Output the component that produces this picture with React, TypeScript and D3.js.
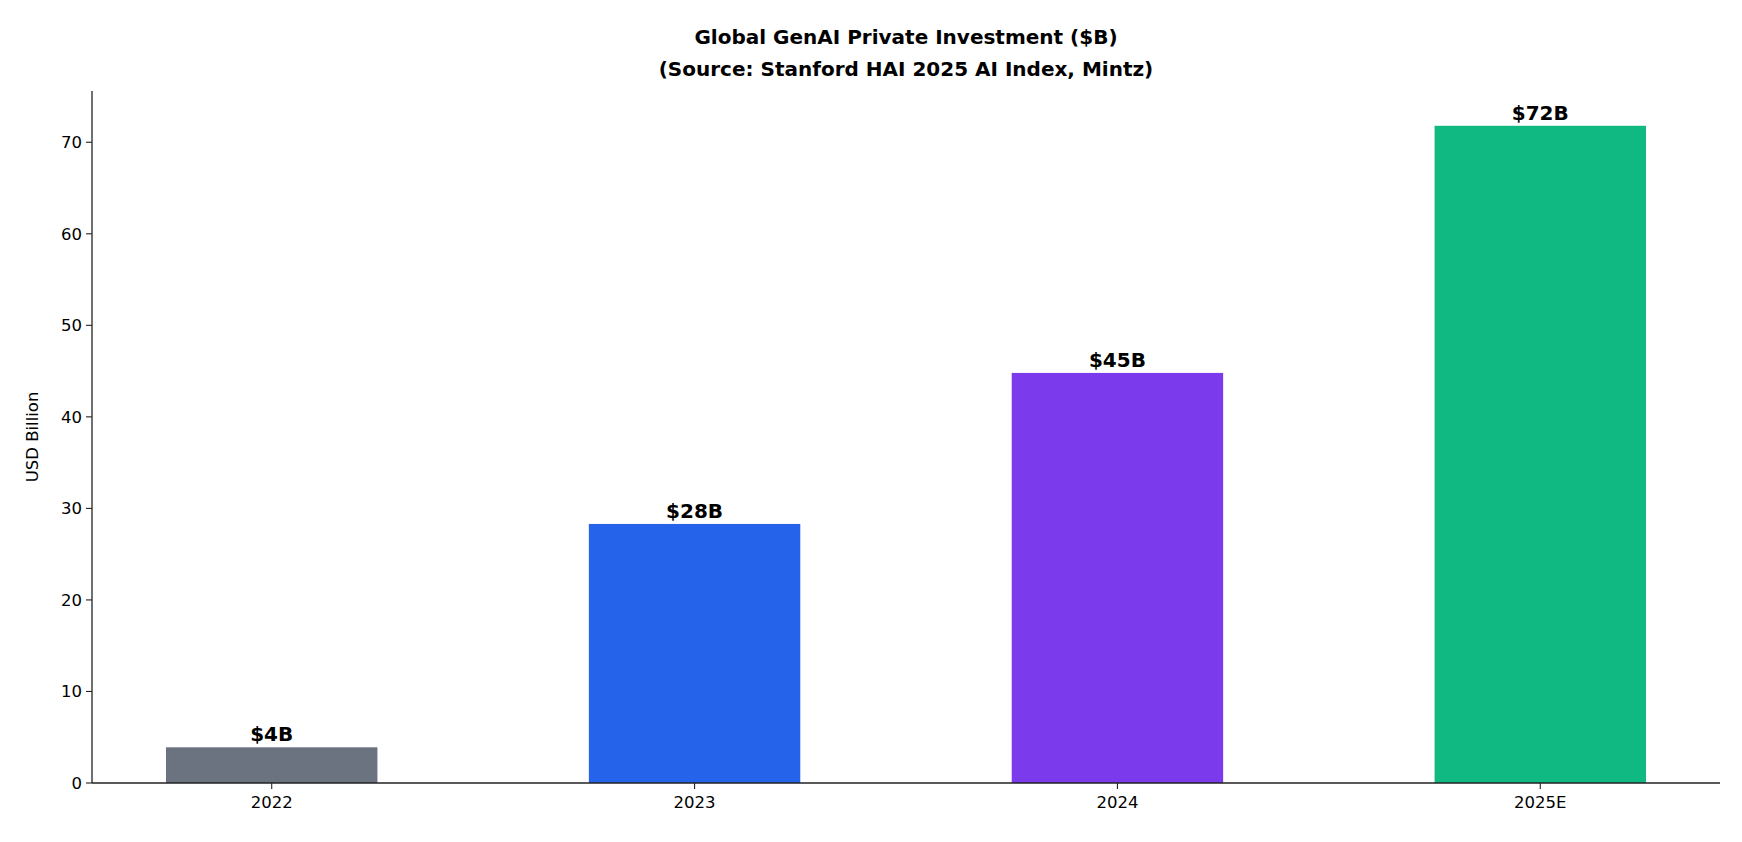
import * as d3 from "d3";

const categories = ["2022", "2023", "2024", "2025E"];
const values = [3.9, 28.3, 44.8, 71.8];
const labels = ["$4B", "$28B", "$45B", "$72B"];
const colors = ["#6b7280", "#2563eb", "#7c3aed", "#10b981"];
const yTicks = [0, 10, 20, 30, 40, 50, 60, 70];

const W = 1742;
const H = 842;
const m = { left: 92, right: 22, top: 91, bottom: 59 };
const font = "'DejaVu Sans', sans-serif";

export default function App() {
  const x = d3.scaleLinear().domain([-0.425, 3.425]).range([m.left, W - m.right]);
  const y = d3.scaleLinear().domain([0, 75.6]).range([H - m.bottom, m.top]);
  const bw = x(0.5) - x(0);
  const base = y(0);

  return (
    <svg width={W} height={H} style={{ position: "absolute", left: 0, top: 0, background: "#fff" }} fontFamily={font}>
      <text x={(m.left + W - m.right) / 2} y={44} textAnchor="middle" fontSize={20} fontWeight="bold">
        Global GenAI Private Investment ($B)
      </text>
      <text x={(m.left + W - m.right) / 2} y={76} textAnchor="middle" fontSize={20} fontWeight="bold">
        (Source: Stanford HAI 2025 AI Index, Mintz)
      </text>
      {values.map((v, i) => (
        <g key={categories[i]}>
          <rect x={x(i) - bw / 2} y={y(v)} width={bw} height={base - y(v)} fill={colors[i]} />
          <text x={x(i)} y={y(v) - 6} textAnchor="middle" fontSize={20} fontWeight="bold">
            {labels[i]}
          </text>
          <line x1={x(i)} x2={x(i)} y1={base} y2={base + 6} stroke="#222" strokeWidth={1.1} />
          <text x={x(i)} y={base + 25} textAnchor="middle" fontSize={16.5}>
            {categories[i]}
          </text>
        </g>
      ))}
      {yTicks.map((t) => (
        <g key={t}>
          <line x1={m.left - 6} x2={m.left} y1={y(t)} y2={y(t)} stroke="#222" strokeWidth={1.1} />
          <text x={m.left - 10} y={y(t)} dy="0.35em" textAnchor="end" fontSize={16.5}>
            {t}
          </text>
        </g>
      ))}
      <line x1={m.left} x2={m.left} y1={m.top} y2={base} stroke="#222" strokeWidth={1.3} />
      <line x1={m.left} x2={W - m.right} y1={base} y2={base} stroke="#222" strokeWidth={1.3} />
      <text transform={`translate(38,${(m.top + base) / 2}) rotate(-90)`} textAnchor="middle" fontSize={16.5}>
        USD Billion
      </text>
    </svg>
  );
}
